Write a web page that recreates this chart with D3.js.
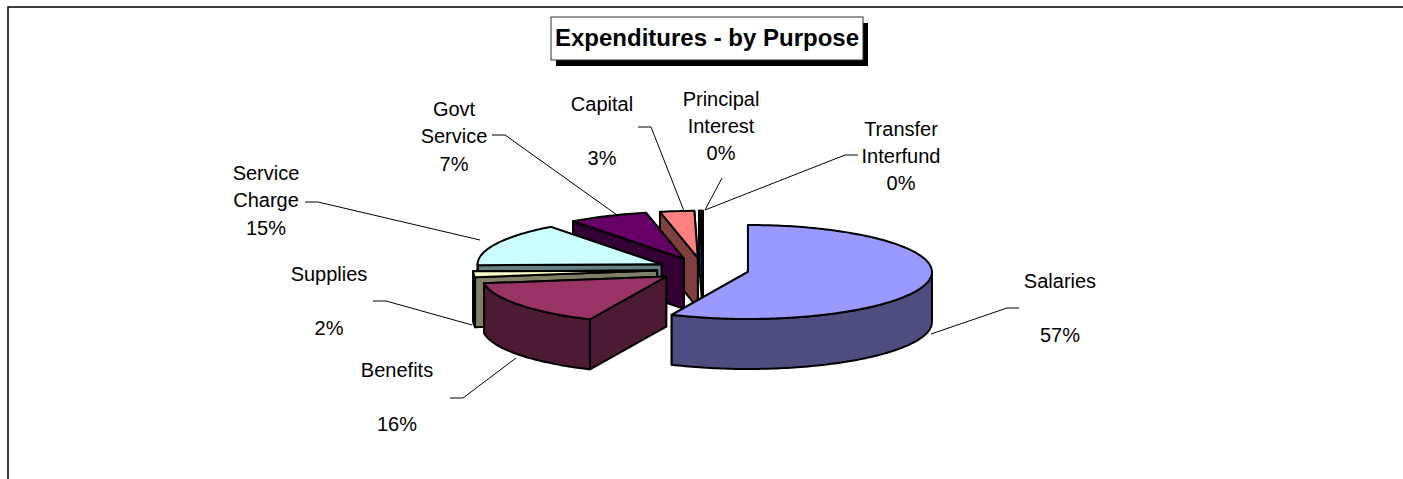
<!DOCTYPE html>
<html>
<head>
<meta charset="utf-8">
<script src="https://d3js.org/d3.v7.min.js"></script>
<style>
  html, body { margin: 0; padding: 0; background: #fff; }
  svg { display: block; }
  text { font-family: "Liberation Sans", Arial, sans-serif; fill: #000; }
</style>
</head>
<body>
<svg id="d3-container" width="1403" height="479"></svg>
<script>
const categories = ['Salaries', 'Benefits', 'Supplies', 'Service Charge', 'Govt Service', 'Capital', 'Principal Interest', 'Transfer Interfund'];
const shares = [56.8, 15.9, 2.0, 15.0, 7.0, 3.0, 0.2, 0.1];
const topColors = ['#9999ff', '#993366', '#ffffcc', '#ccffff', '#660066', '#ff8080', '#0066cc', '#ccccff'];
const wallColors = ['#4d4d80', '#4d1a33', '#808066', '#668080', '#330033', '#804040', '#003366', '#666680'];
const labelLines = [['Salaries'], ['Benefits'], ['Supplies'], ['Service', 'Charge'], ['Govt', 'Service'], ['Capital'], ['Principal', 'Interest'], ['Transfer', 'Interfund']];

// label layout: x = centre of text, y = baseline of first line, pctY = baseline of percent
const labelX = [1060, 397, 329, 266, 454, 602, 721, 901];
const labelY = [288, 377, 281, 180, 116, 111, 106, 136];
const pctY = [342, 431, 335, 235, 171, 165, 160, 190];
const leaders = [
  [[931, 334], [1007, 308], [1019, 308]],
  [[516, 358], [463, 398], [450, 398]],
  [[472, 325], [386, 301], [373, 301]],
  [[480, 240], [318, 202], [305, 202]],
  [[617, 215], [505, 135], [492, 135]],
  [[684, 211], [651, 127], [638, 127]],
  [[705, 210], [722, 178]],
  [[705, 210], [845, 155], [858, 155]]
];

const svg = d3.select('#d3-container');
const width = 1403, height = 479;

const center = { x: 703, y: 269.5 };
const radiusX = 184, radiusY = 47, depth = 50, explode = 0.25;

// unit circle -> screen, the ellipse is the tilted pie
const xScale = d3.scaleLinear().domain([-1, 1]).range([center.x - radiusX, center.x + radiusX]);
const yScale = d3.scaleLinear().domain([-1, 1]).range([center.y - radiusY, center.y + radiusY]);

const pie = d3.pie().sort(null).value(d => d);
const arcs = pie(shares);

const path = d3.line();

// frame
svg.append('path')
  .attr('d', path([[8, height], [8, 7], [width, 7]]))
  .attr('fill', 'none').attr('stroke', '#000').attr('stroke-width', 1.5);

function point(a, apex, drop) {
  return [xScale(apex[0] + Math.sin(a)), yScale(apex[1] - Math.cos(a)) + drop];
}

const slices = arcs.map((d, i) => {
  const mid = (d.startAngle + d.endAngle) / 2;
  return {
    i, d, mid,
    apex: [explode * Math.sin(mid), -explode * Math.cos(mid)]
  };
});

function arcAngles(a0, a1) {
  const n = Math.max(2, Math.ceil((a1 - a0) / 0.02));
  return d3.range(n + 1).map(k => a0 + (a1 - a0) * k / n);
}

function drawSlice(s) {
  const g = svg.append('g').attr('class', 'slice');
  const c = [xScale(s.apex[0]), yScale(s.apex[1])];
  const wall = wallColors[s.i], top = topColors[s.i];
  const a0 = s.d.startAngle, a1 = s.d.endAngle;

  // two cut faces, the one further back first
  const faces = [a0, a1].map(a => {
    const p = point(a, s.apex, 0);
    return { p, my: (p[1] + c[1]) / 2 };
  }).sort((m, n) => m.my - n.my);
  faces.forEach(f => {
    g.append('path')
      .attr('d', path([c, f.p, [f.p[0], f.p[1] + depth], [c[0], c[1] + depth]]) + 'Z')
      .attr('fill', wall).attr('stroke', '#000').attr('stroke-width', 2).attr('stroke-linejoin', 'round');
  });

  // outer wall, only the part that faces the viewer
  const w0 = Math.max(a0, Math.PI / 2), w1 = Math.min(a1, Math.PI * 1.5);
  if (w1 > w0) {
    const angles = arcAngles(w0, w1);
    const upper = angles.map(a => point(a, s.apex, 0));
    const lower = angles.map(a => point(a, s.apex, depth)).reverse();
    g.append('path')
      .attr('d', path(upper.concat(lower)) + 'Z')
      .attr('fill', wall).attr('stroke', '#000').attr('stroke-width', 2).attr('stroke-linejoin', 'round');
  }

  // top
  const rim = arcAngles(a0, a1).map(a => point(a, s.apex, 0));
  g.append('path')
    .attr('d', path([c].concat(rim)) + 'Z')
    .attr('fill', top).attr('stroke', '#000').attr('stroke-width', 2).attr('stroke-linejoin', 'round');
}

// leaders go under the pie
leaders.forEach(l => {
  svg.append('path').attr('d', path(l))
    .attr('fill', 'none').attr('stroke', '#000').attr('stroke-width', 1);
});

// painter's order, back of the pie first
[7, 6, 5, 4, 3, 2, 1, 0].forEach(i => drawSlice(slices[i]));

// labels
const fontSize = 20, lineGap = 27;
categories.forEach((name, i) => {
  const t = svg.append('text').attr('text-anchor', 'middle').attr('font-size', fontSize);
  labelLines[i].forEach((line, k) => {
    t.append('tspan').attr('x', labelX[i]).attr('y', labelY[i] + k * lineGap).text(line);
  });
  svg.append('text').attr('text-anchor', 'middle').attr('font-size', fontSize)
    .attr('x', labelX[i]).attr('y', pctY[i])
    .text(d3.format('.0%')(shares[i] / 100));
});

// title box
const titleBox = { x: 551, y: 17, w: 312, h: 43 };
svg.append('rect').attr('x', titleBox.x + 5).attr('y', titleBox.y + 6)
  .attr('width', titleBox.w).attr('height', titleBox.h).attr('fill', '#000');
svg.append('rect').attr('x', titleBox.x).attr('y', titleBox.y)
  .attr('width', titleBox.w).attr('height', titleBox.h)
  .attr('fill', '#fff').attr('stroke', '#333').attr('stroke-width', 1);
svg.append('text')
  .attr('x', titleBox.x + titleBox.w / 2).attr('y', 46)
  .attr('text-anchor', 'middle').attr('font-size', 24).attr('font-weight', 'bold')
  .text('Expenditures - by Purpose');
</script>
</body>
</html>
